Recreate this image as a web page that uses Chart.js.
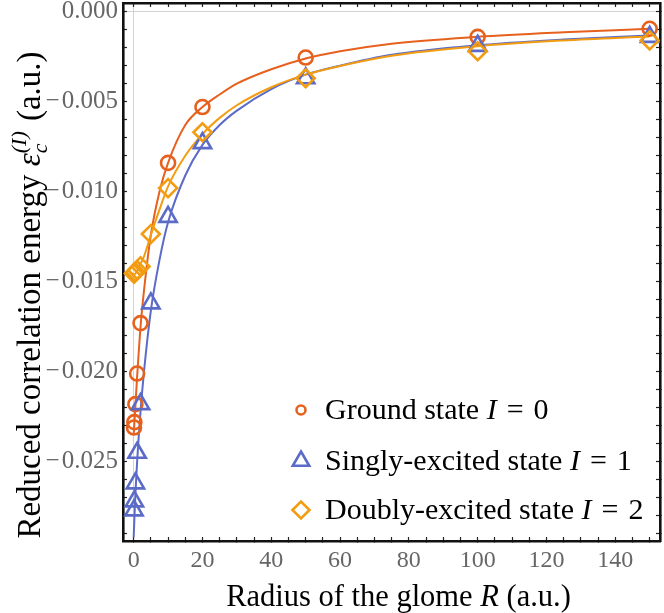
<!DOCTYPE html>
<html><head><meta charset="utf-8">
<script src="https://cdn.jsdelivr.net/npm/chart.js@4/dist/chart.umd.min.js"></script>
<style>html,body{margin:0;padding:0;background:#fff;}#wrap{width:664px;height:613px;}</style>
</head><body><div id="wrap"><canvas id="c" width="664" height="613"></canvas></div>
<script>
// ---- data ----
const groundR = [0.1, 0.2, 0.5, 1, 2, 10, 20, 50, 100, 150];
const groundE = [-0.0231, -0.0228, -0.0218, -0.0201, -0.0173, -0.0084, -0.0053, -0.00255, -0.0014, -0.00095];
const singlyR = [0.1, 0.2, 0.5, 1, 2, 5, 10, 20, 50, 100, 150];
const singlyE = [-0.0277, -0.0272, -0.0262, -0.0245, -0.0218, -0.0162, -0.0114, -0.0073, -0.0037, -0.0019, -0.0014];
const doublyR = [0.1, 0.2, 0.5, 1, 2, 5, 10, 20, 50, 100, 150];
const doublyE = [-0.01455, -0.01452, -0.01447, -0.01435, -0.01415, -0.01235, -0.0098, -0.0067, -0.0037, -0.0022, -0.0016];

// fitted curves, sampled off the figure
const fitR      = [0, 0.5, 1, 2, 3, 5, 7.5, 10, 15, 20, 25, 30, 40, 50, 60, 75, 100, 125, 150];
const groundFit = [-0.0235, -0.0219, -0.0203, -0.0175, -0.0155, -0.0124, -0.0100, -0.0084, -0.0063, -0.0053, -0.0046, -0.0040, -0.0032, -0.0026, -0.0022, -0.00178, -0.0014, -0.00115, -0.00095];
const singlyFit = [-0.0292, -0.0268, -0.0250, -0.0222, -0.0200, -0.0166, -0.0138, -0.0117, -0.0091, -0.0074, -0.0063, -0.0055, -0.0043, -0.0035, -0.0030, -0.0024, -0.00187, -0.00155, -0.00132];
const doublyFit = [-0.0146, -0.01455, -0.0144, -0.0140, -0.0136, -0.0124, -0.0110, -0.0097, -0.0080, -0.0068, -0.0059, -0.0052, -0.0042, -0.0035, -0.00302, -0.00245, -0.00192, -0.0016, -0.00138];

const seriesNames = ['Ground state', 'Singly-excited state', 'Doubly-excited state'];
const seriesIndex = ['0', '1', '2'];

const xMajor = [0, 20, 40, 60, 80, 100, 120, 140];
const xTickLabels = ['0', '20', '40', '60', '80', '100', '120', '140'];
const yMajor = [0, -0.005, -0.010, -0.015, -0.020, -0.025];
const yTickLabels = ['0.000', '\u2212\u200A0.005', '\u2212\u200A0.010', '\u2212\u200A0.015', '\u2212\u200A0.020', '\u2212\u200A0.025'];

const xTitle = ['Radius of the glome ', 'R', ' (a.u.)'];
const yTitle = ['Reduced correlation energy ', '\u03B5', 'c', '(I)', ' (a.u.)'];

// ---- styling ----
const C_GROUND = '#E6611D';
const C_SINGLY = '#5B6BC7';
const C_DOUBLY = '#F29C12';
const SERIF = '"Liberation Serif", "DejaVu Serif", serif';

const pts = (xs, ys) => xs.map((x, i) => ({x: x, y: ys[i]}));

function xTickValues(){ const a=[]; for(let v=0; v<=150; v+=5) a.push({value:v}); return a; }
function yTickValues(){ const a=[]; for(let i=0; i>=-29; i--) a.push({value:i/1000}); return a; }
function labelFor(v, majors, labels){
  for (let i=0;i<majors.length;i++) if (Math.abs(majors[i]-v) < 1e-9) return labels[i];
  return '';
}

const gridZero = (ctx) => (ctx.tick && Math.abs(ctx.tick.value) < 1e-12) ? '#d2d2d2' : 'rgba(0,0,0,0)';

const commonBorder = {display: true, color: '#111', width: 2.6};

const overlay = {
  id: 'overlay',
  afterDraw(chart) {
    const ctx = chart.ctx;
    const ca = chart.chartArea;
    function runsWidth(runs){ let w=0; runs.forEach(r=>{ctx.font=r.f; const m=ctx.measureText(r.t).width; w += (r.adv===undefined? m : r.adv);}); return w; }
    function drawRuns(runs, x, y){ let cx=x; runs.forEach(r=>{ctx.font=r.f; ctx.fillText(r.t, cx, y+(r.dy||0)); const m=ctx.measureText(r.t).width; cx += (r.adv===undefined? m : r.adv);}); }
    ctx.save();
    ctx.fillStyle = '#000';
    ctx.textBaseline = 'alphabetic';
    ctx.textAlign = 'left';
    // x title
    const fx = '30.5px ' + SERIF, fxi = 'italic 30.5px ' + SERIF;
    const xr = [{t:xTitle[0], f:fx}, {t:xTitle[1], f:fxi}, {t:xTitle[2], f:fx}];
    const wx = runsWidth(xr);
    drawRuns(xr, (ca.left+ca.right)/2 + 7 - wx/2, 606);
    // y title (rotated)
    const fy = '33px ' + SERIF, fyi = 'italic 33px ' + SERIF, fys = 'italic 22px ' + SERIF;
    ctx.font = fys; const wsup = ctx.measureText(yTitle[3]).width;
    const yr = [{t:yTitle[0], f:fy}, {t:yTitle[1], f:fyi}, {t:yTitle[2], f:fys, dy:7, adv:0}, {t:yTitle[3], f:fys, dy:-14, adv:wsup+2}, {t:yTitle[4], f:fy}];
    const wy = runsWidth(yr);
    ctx.translate(40, 295);
    ctx.rotate(-Math.PI/2);
    drawRuns(yr, -wy/2, 0);
    ctx.restore();

    // legend
    ctx.save();
    const rows = [
      {y: 410, color: C_GROUND, shape: 'circle', r: 4.5},
      {y: 461, color: C_SINGLY, shape: 'triangle', r: 9.5},
      {y: 510, color: C_DOUBLY, shape: 'diamond', r: 8.5}
    ];
    const fl = '30px ' + SERIF, fli = 'italic 30px ' + SERIF;
    rows.forEach((row, i) => {
      const mx = 301;
      ctx.strokeStyle = row.color; ctx.lineWidth = 2.6; ctx.lineJoin = 'miter';
      ctx.beginPath();
      if (row.shape === 'circle') ctx.arc(mx, row.y, row.r, 0, Math.PI*2);
      else if (row.shape === 'triangle') {
        for (let k=0;k<3;k++){ const a = k*2*Math.PI/3; const px = mx + Math.sin(a)*row.r, py = row.y - Math.cos(a)*row.r; if(k===0) ctx.moveTo(px,py); else ctx.lineTo(px,py);} ctx.closePath();
      } else {
        ctx.moveTo(mx-row.r,row.y); ctx.lineTo(mx,row.y-row.r); ctx.lineTo(mx+row.r,row.y); ctx.lineTo(mx,row.y+row.r); ctx.closePath();
      }
      ctx.stroke();
      ctx.fillStyle = '#000';
      ctx.textBaseline = 'middle';
      drawRuns([{t: seriesNames[i] + ' ', f: fl}, {t: 'I', f: fli}, {t: ' \u200A=\u200A ' + seriesIndex[i], f: fl}], 325, row.y + 1);
    });
    ctx.restore();
  }
};

new Chart(document.getElementById('c'), {
  type: 'scatter',
  data: {
    datasets: [
      {label: 'Ground state I = 0', data: pts(groundR, groundE), pointStyle: 'circle', pointRadius: 7, borderColor: C_GROUND, backgroundColor: 'rgba(0,0,0,0)', pointBorderWidth: 2.6, showLine: false, order: 3},
      {label: 'Singly-excited state I = 1', data: pts(singlyR, singlyE), pointStyle: 'triangle', pointRadius: 10, borderColor: C_SINGLY, backgroundColor: 'rgba(0,0,0,0)', pointBorderWidth: 2.6, showLine: false, order: 2},
      {label: 'Doubly-excited state I = 2', data: pts(doublyR, doublyE), pointStyle: 'rectRot', pointRadius: 9, borderColor: C_DOUBLY, backgroundColor: 'rgba(0,0,0,0)', pointBorderWidth: 2.6, showLine: false, order: 1},
      {label: 'fit0', data: pts(fitR, groundFit), showLine: true, pointRadius: 0, borderColor: C_GROUND, borderWidth: 2, cubicInterpolationMode: 'monotone', order: 12},
      {label: 'fit1', data: pts(fitR, singlyFit), showLine: true, pointRadius: 0, borderColor: C_SINGLY, borderWidth: 2, cubicInterpolationMode: 'monotone', order: 11},
      {label: 'fit2', data: pts(fitR, doublyFit), showLine: true, pointRadius: 0, borderColor: C_DOUBLY, borderWidth: 2, cubicInterpolationMode: 'monotone', order: 10}
    ]
  },
  options: {
    responsive: false, maintainAspectRatio: false, animation: false, devicePixelRatio: 1,
    layout: {padding: 0, autoPadding: false},
    plugins: {legend: {display: false}, tooltip: {enabled: false}},
    scales: {
      x: {
        type: 'linear', position: 'bottom', min: -3.1, max: 153,
        afterBuildTicks: s => { s.ticks = xTickValues(); },
        afterFit: s => { s.height = 72; s.paddingLeft = 0; s.paddingRight = 0; },
        ticks: {autoSkip: false, maxRotation: 0, padding: 9, color: '#666', font: {family: SERIF, size: 24}, callback: v => labelFor(v, xMajor, xTickLabels)},
        grid: {color: gridZero, lineWidth: 1, drawTicks: true, tickLength: -4, tickColor: '#222', tickWidth: 1.2},
        border: commonBorder
      },
      x2: {
        type: 'linear', position: 'top', min: -3.1, max: 153,
        afterBuildTicks: s => { s.ticks = xTickValues(); },
        afterFit: s => { s.height = 3; s.paddingLeft = 0; s.paddingRight = 0; },
        ticks: {display: false, autoSkip: false},
        grid: {drawOnChartArea: false, drawTicks: true, tickLength: -4, tickColor: '#222', tickWidth: 1.2},
        border: commonBorder
      },
      y: {
        type: 'linear', position: 'left', min: -0.0294, max: 0.00048,
        afterBuildTicks: s => { s.ticks = yTickValues(); },
        afterFit: s => { s.width = 123; s.paddingTop = 0; s.paddingBottom = 0; },
        ticks: {autoSkip: false, padding: 9, color: '#666', font: {family: SERIF, size: 25}, callback: v => labelFor(v, yMajor, yTickLabels)},
        grid: {color: gridZero, lineWidth: 1, drawTicks: true, tickLength: -4, tickColor: '#222', tickWidth: 1.2},
        border: commonBorder
      },
      y2: {
        type: 'linear', position: 'right', min: -0.0294, max: 0.00048,
        afterBuildTicks: s => { s.ticks = yTickValues(); },
        afterFit: s => { s.width = 4; s.paddingTop = 0; s.paddingBottom = 0; },
        ticks: {display: false, autoSkip: false},
        grid: {drawOnChartArea: false, drawTicks: true, tickLength: -4, tickColor: '#222', tickWidth: 1.2},
        border: commonBorder
      }
    }
  },
  plugins: [overlay]
});
</script>
</body></html>
